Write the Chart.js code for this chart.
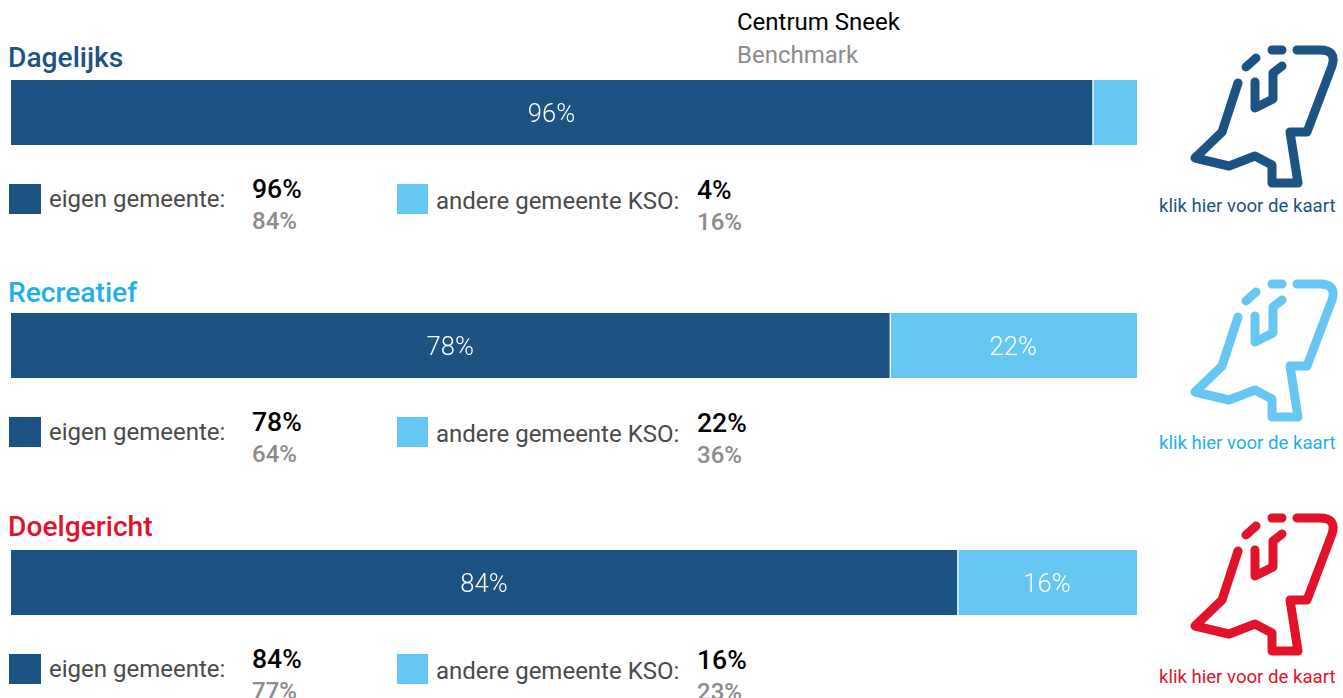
<!DOCTYPE html>
<html><head><meta charset="utf-8">
<style>
html,body{margin:0;padding:0;background:#fff;width:1343px;height:698px;overflow:hidden;font-family:Roboto,sans-serif}
.t{position:absolute;white-space:nowrap;line-height:1}
canvas{position:absolute;left:11px;display:block}
svg{position:absolute;left:1150px;overflow:visible}
</style>
<script src="https://cdn.jsdelivr.net/npm/chart.js@4"></script>
</head><body>
<svg width="0" height="0" style="position:absolute"><defs><g id="m" fill="none" stroke-width="9" stroke-linecap="round" stroke-linejoin="round" stroke="currentColor">
<path d="M147 20H170Q187 20 182 36L157 102H140L148 153H122V135L105 126L79 136L45 128L72 102L88 53"/>
<path d="M105 52V78L123 69V43L132 36"/><path d="M96 37L106 28"/><path d="M122 20H132"/>
</g></defs></svg>
<div id="root"></div>
<script>
const titles=['Dagelijks','Recreatief','Doelgericht'];
const titleColors=['#1d5382','#1fb0ea','#e2122a'];
const iconColors=['#1d5382','#66c8f2','#e2122a'];
const eigen=[96,78,84];
const andere=[4,22,16];
const benchEigen=[84,64,77];
const benchAndere=[16,36,23];
const legendEigen='eigen gemeente:';
const legendAndere='andere gemeente KSO:';
const mapLabel='klik hier voor de kaart';
const headerMain='Centrum Sneek';
const headerBench='Benchmark';
const colorEigen='#1d5382';
const colorAndere='#66c8f2';
const barTops=[80,313,550];
const titleY=[44,279,513];
const legendTop=[184,417,654];
const mapOffset=[30,264,498];
const linkY=[197,434,668];

const root=document.getElementById('root');
function text(s,x,y,size,color,weight){
  const d=document.createElement('div');d.className='t';d.textContent=s;
  d.style.cssText=`left:${x}px;top:${y}px;font-size:${size}px;color:${color};font-weight:${weight||400}`;
  root.appendChild(d);return d;
}
function box(x,y,w,h,c){const d=document.createElement('div');
  d.style.cssText=`position:absolute;left:${x}px;top:${y}px;width:${w}px;height:${h}px;background:${c}`;root.appendChild(d);}
text(headerMain,737,10,24,'#000');
text(headerBench,737,43,24,'#8c8c8c');

const labelPlugin={id:'barLabels',afterDatasetsDraw(c){
  const ctx=c.ctx;ctx.save();ctx.font='300 25.6px Roboto';ctx.fillStyle='#fff';ctx.textAlign='center';ctx.textBaseline='middle';
  c.data.datasets.forEach((ds,i)=>{const v=ds.data[0];if(v<10)return;
    const b=c.getDatasetMeta(i).data[0];ctx.fillText(v+'%',(b.base+b.x)/2,b.y+3);});
  ctx.restore();}};

titles.forEach((title,i)=>{
  text(title,8,titleY[i],28.2,titleColors[i],500);
  const cv=document.createElement('canvas');cv.width=1126;cv.height=65;cv.style.top=barTops[i]+'px';root.appendChild(cv);
  new Chart(cv,{type:'bar',plugins:[labelPlugin],data:{labels:[title],datasets:[
    {data:[eigen[i]],backgroundColor:colorEigen,borderWidth:0},
    {data:[andere[i]],backgroundColor:colorAndere,borderColor:'#fff',borderWidth:{left:2},borderSkipped:false}]},
   options:{indexAxis:'y',responsive:false,animation:false,
    barPercentage:1,categoryPercentage:1,layout:{padding:0},
    plugins:{legend:{display:false},tooltip:{enabled:false}},
    scales:{x:{stacked:true,min:0,max:100,display:false},y:{stacked:true,display:false}}}});
  const l=legendTop[i];
  box(9,l,32,30,colorEigen);
  text(legendEigen,49,l+3,24,'#4a4a4a');
  text(eigen[i]+'%',252,l-8,26.6,'#000',500);
  text(benchEigen[i]+'%',252,l+25,24,'#8c8c8c',500);
  box(397,l,31,30,colorAndere);
  text(legendAndere,436,l+5,24,'#4a4a4a');
  text(andere[i]+'%',697,l-7,26.6,'#000',500);
  text(benchAndere[i]+'%',697,l+26,24,'#8c8c8c',500);
  const ns='http://www.w3.org/2000/svg';
  const s=document.createElementNS(ns,'svg');s.setAttribute('width','193');s.setAttribute('height','170');
  s.style.top=mapOffset[i]+'px';s.style.color=iconColors[i];
  const u=document.createElementNS(ns,'use');u.setAttribute('href','#m');s.appendChild(u);root.appendChild(s);
  text(mapLabel,1159,linkY[i],18.6,titleColors[i]);
});
</script></body></html>
